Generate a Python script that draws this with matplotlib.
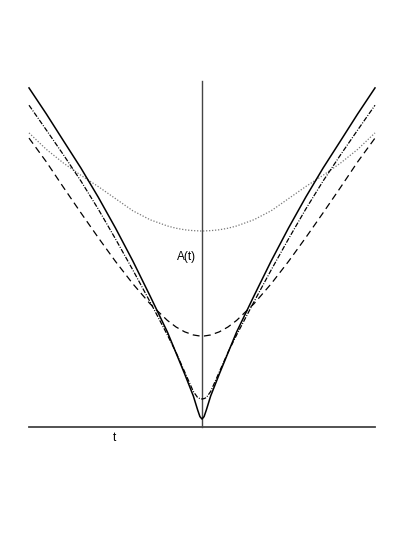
import matplotlib
matplotlib.use("Agg")
import matplotlib.pyplot as plt
import numpy as np

# right-half sample times; the curves are symmetric about t = 0
t_half = [0, 0.12, 0.25, 0.5, 1, 1.5, 2, 3, 4, 5, 6, 7, 8, 9, 10]

# A(t), one list per curve
a_solid = [0.46, 0.6, 0.98, 1.79, 3.06, 4.28, 5.49, 7.57, 9.60, 11.50, 13.29, 14.97, 16.53, 18.1, 19.6]
a_dashdot = [1.62, 1.64, 1.70, 2.05, 3.18, 4.31, 5.32, 7.23, 9.08, 10.87, 12.60, 14.22, 15.72, 17.17, 18.6]
a_dashed = [5.26, 5.26, 5.28, 5.32, 5.50, 5.78, 6.16, 7.12, 8.28, 9.57, 10.95, 12.38, 13.84, 15.33, 16.7]
a_dotted = [11.33, 11.33, 11.34, 11.35, 11.40, 11.49, 11.62, 11.98, 12.5, 13.2, 13.9, 14.55, 15.25, 16.05, 17.0]

t_range = (-10, 10)
a_top = 20


def mirror(t, a):
    t = np.asarray(t, float)
    a = np.asarray(a, float)
    return np.concatenate([-t[::-1], t[1:]]), np.concatenate([a[::-1], a[1:]])


fig = plt.figure(figsize=(4.15, 5.37), dpi=100)
ax = fig.add_axes([29 / 415, 110 / 537, 346 / 415, 346 / 537])
ax.set_xlim(*t_range)
ax.set_ylim(0, a_top)
ax.axis("off")

# axes drawn as plain lines
ax.plot(t_range, [0, 0], color="#444444", lw=1.3, clip_on=False)
ax.plot([0, 0], [0, a_top], color="#444444", lw=1.0, clip_on=False)

tt, aa = mirror(t_half, a_dotted)
ax.plot(tt, aa, color="#777777", lw=0.9, ls=(0, (1, 1.4)), clip_on=False)
tt, aa = mirror(t_half, a_dashed)
ax.plot(tt, aa, color="black", lw=0.9, ls=(0, (5.5, 3.5)), clip_on=False)
tt, aa = mirror(t_half, a_dashdot)
ax.plot(tt, aa, color="black", lw=0.9, ls=(0, (4, 1.2, 0.8, 1.2)), clip_on=False)
tt, aa = mirror(t_half, a_solid)
ax.plot(tt, aa, color="black", lw=1.1, clip_on=False)

ax.text(-0.9, 9.85, "A(t)", ha="center", va="center", fontsize=8.5,
        family="Liberation Sans")
ax.text(-5.05, -0.65, "t", ha="center", va="center", fontsize=8.5,
        family="Liberation Sans")

fig.savefig("out.png", dpi=100)
